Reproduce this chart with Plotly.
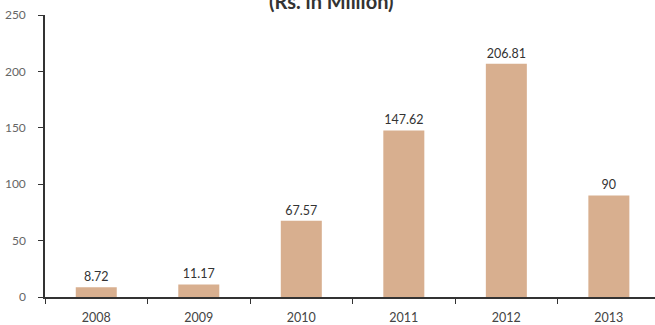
import plotly.graph_objects as go

years = ["2008", "2009", "2010", "2011", "2012", "2013"]
values = [8.72, 11.17, 67.57, 147.62, 206.81, 90]
labels = ["8.72", "11.17", "67.57", "147.62", "206.81", "90"]
y_ticks = [0, 50, 100, 150, 200, 250]

FONT = "Lato, Open Sans, sans-serif"

fig = go.Figure(go.Bar(
    x=years, y=values, text=labels, textposition="outside",
    marker=dict(color="#D8AF8F", line=dict(width=0)),
    width=0.4,
    textfont=dict(family=FONT, size=12.5, color="#333333"),
    cliponaxis=False,
))

fig.update_layout(
    width=655, height=325,
    margin=dict(l=45, r=0, t=15, b=28),
    paper_bgcolor="white", plot_bgcolor="white",
    showlegend=False,
    font=dict(family=FONT, size=12, color="#555555"),
    annotations=[dict(
        text="<b>(Rs. in Million)</b>", xref="paper", yref="paper",
        x=0.47, y=1.0, yshift=0, xanchor="center", yanchor="bottom",
        showarrow=False,
        font=dict(family=FONT, size=20, color="#333333"),
    )],
)
fig.update_xaxes(
    type="category", range=[-0.5, 5.45],
    showline=True, linecolor="#333333", linewidth=1.5,
    ticks="outside", ticklen=5, tickcolor="#333333", tickson="boundaries",
    showgrid=False, tickfont=dict(size=12.5, color="#444444"),
    ticklabelstandoff=8,
)
fig.update_yaxes(
    range=[0, 250], tickvals=y_ticks,
    showline=True, linecolor="#333333", linewidth=1.5,
    ticks="outside", ticklen=5, tickcolor="#333333",
    showgrid=False, zeroline=False,
    ticklabelstandoff=10,
    tickfont=dict(size=12, color="#666666"),
)

fig.write_html(
    "out.html",
    config={"displayModeBar": False},
    post_script="document.body.style.margin='0';document.body.style.overflow='hidden';",
)
